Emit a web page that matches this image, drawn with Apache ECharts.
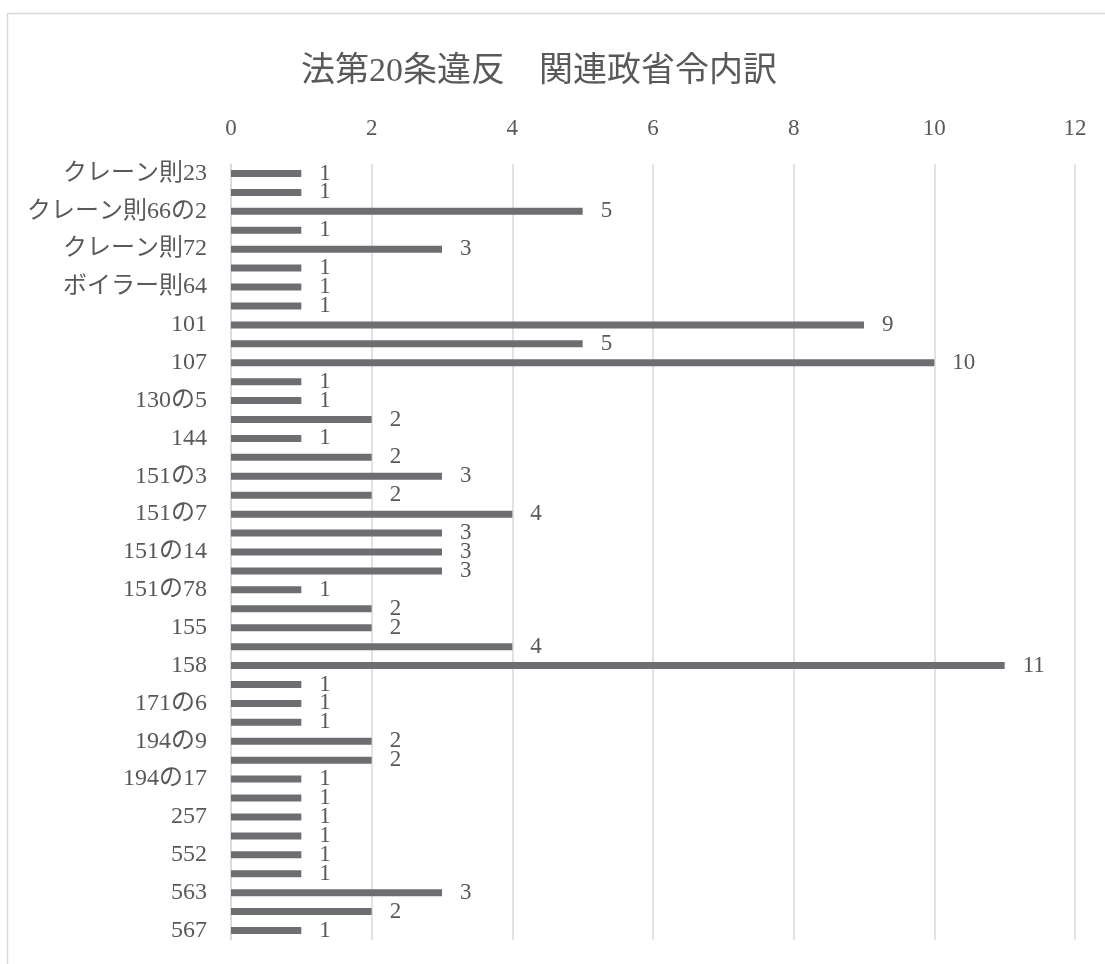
<!DOCTYPE html>
<html>
<head>
<meta charset="utf-8">
<script src="https://cdn.jsdelivr.net/npm/echarts@6/dist/echarts.min.js"></script>
<style>
  html, body { margin: 0; padding: 0; background: #ffffff; }
  #chart { width: 1105px; height: 964px; }
</style>
</head>
<body>
<div id="chart"></div>
<script>
// Articles of the related ordinances (top to bottom)
const categories = [
  'クレーン則23', 'クレーン則62', 'クレーン則66の2', 'クレーン則69', 'クレーン則72',
  'クレーン則74', 'ボイラー則64', 'ゴンドラ則17', '101', '104',
  '107', '111', '130の5', '131', '144',
  '147', '151の3', '151の4', '151の7', '151の10',
  '151の14', '151の70', '151の78', '153', '155',
  '157', '158', '171の4', '171の6', '194の7',
  '194の9', '194の12', '194の17', '194の20', '257',
  '518', '552', '556', '563', '564',
  '567'
];

// Number of violations per article
const counts = [
  1, 1, 5, 1, 3,
  1, 1, 1, 9, 5,
  10, 1, 1, 2, 1,
  2, 3, 2, 4, 3,
  3, 3, 1, 2, 2,
  4, 11, 1, 1, 1,
  2, 2, 1, 1, 1,
  1, 1, 1, 3, 2,
  1
];

// Value-axis ticks
const axisMin = 0;
const axisMax = 12;
const axisStep = 2;

const titleText = '法第20条違反　関連政省令内訳';

const FONT = "'Liberation Serif', 'Noto Sans CJK JP', serif";
const TEXT = '#595959';
const GRID = '#d9d9d9';
const BAR = '#6e6e72';

const chart = echarts.init(document.getElementById('chart'));
chart.setOption({
  backgroundColor: '#ffffff',
  animation: false,
  graphic: [{
    type: 'rect',
    shape: { x: 7.5, y: 13.5, width: 1120, height: 980 },
    style: { fill: 'none', stroke: GRID, lineWidth: 1.5 },
    silent: true,
    z: -1
  }],
  title: {
    text: titleText,
    left: 534,
    top: 67,
    textAlign: 'center',
    textVerticalAlign: 'middle',
    textStyle: { fontFamily: FONT, fontSize: 34, fontWeight: 'normal', color: TEXT }
  },
  grid: { left: 231, right: 30, top: 164, bottom: 24, containLabel: false },
  xAxis: {
    type: 'value',
    position: 'top',
    min: axisMin,
    max: axisMax,
    interval: axisStep,
    axisLine: { show: false },
    axisTick: { show: false },
    splitLine: { show: true, lineStyle: { color: GRID, width: 1.5 } },
    axisLabel: { fontFamily: FONT, fontSize: 23, color: TEXT, margin: 24 }
  },
  yAxis: {
    type: 'category',
    inverse: true,
    data: categories,
    axisLine: { show: true, lineStyle: { color: GRID, width: 1.5 } },
    axisTick: { show: false },
    axisLabel: { interval: 1, fontFamily: FONT, fontSize: 24, color: TEXT, margin: 24 }
  },
  series: [{
    type: 'bar',
    data: counts,
    barWidth: 7,
    itemStyle: { color: BAR },
    label: {
      show: true,
      position: 'right',
      distance: 18,
      fontFamily: FONT,
      fontSize: 23,
      color: TEXT
    }
  }]
});
</script>
</body>
</html>
